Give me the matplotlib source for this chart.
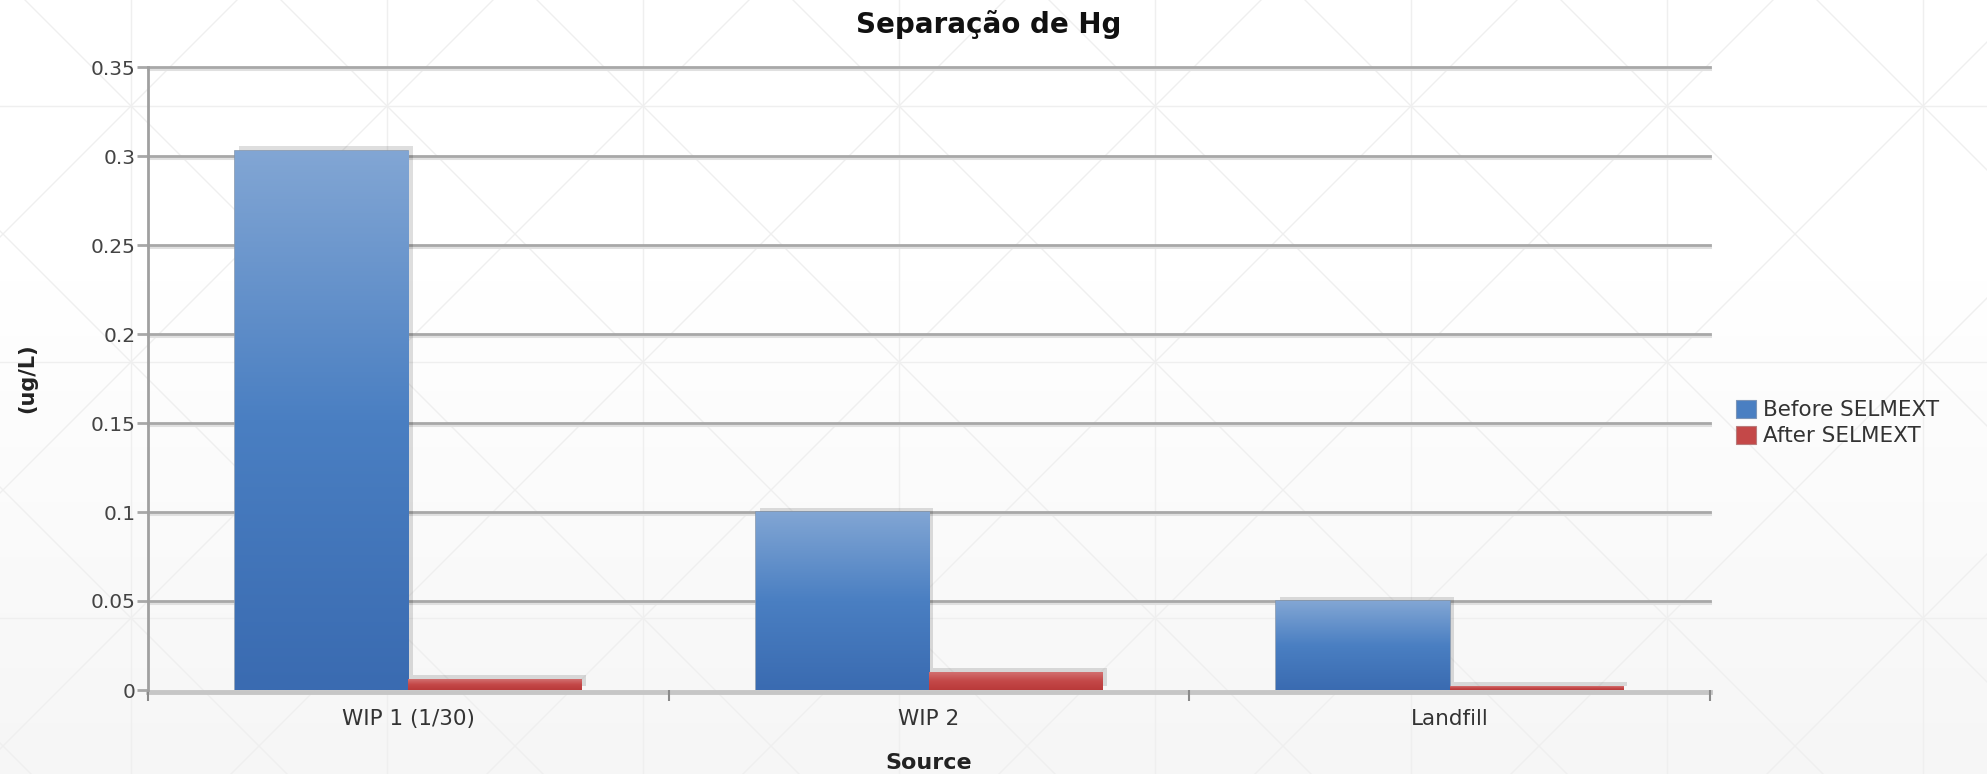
import matplotlib
matplotlib.use('Agg')
import matplotlib.pyplot as plt
import matplotlib.patheffects as pe
import matplotlib.transforms as mtransforms
from matplotlib.colors import LinearSegmentedColormap
from matplotlib.patches import Patch
import numpy as np

# Hg concentration per source, before / after the SELMEXT treatment
sources = ['WIP 1 (1/30)', 'WIP 2', 'Landfill']
before = [0.303, 0.100, 0.050]
after = [0.006, 0.010, 0.002]
y_ticks = [0, 0.05, 0.1, 0.15, 0.2, 0.25, 0.3, 0.35]
y_tick_labels = ['0', '0.05', '0.1', '0.15', '0.2', '0.25', '0.3', '0.35']
series_names = ['Before SELMEXT', 'After SELMEXT']

W, H = 1987, 774
fig = plt.figure(figsize=(W / 100, H / 100), dpi=100)
fig.patch.set_facecolor('white')

# page background: soft vertical gradient with a faint triangle lattice
bg = fig.add_axes([0, 0, 1, 1], zorder=-10)
bg.axis('off')
shade = np.ones((H, 1))
rows = np.arange(H)
shade[:, 0] = np.where(rows < 280, 1.0, 1.0 - 0.035 * (rows - 280) / (H - 280))
bg.imshow(np.repeat(shade[:, :, None], 3, axis=2), extent=[0, W, H, 0], aspect='auto')
lat = dict(color='#efefef', lw=1.0)
for k in range(-4, 12):
    x = 131 + 256 * k
    bg.plot([x, x], [0, H], **lat)
    y = 106 + 256 * k
    bg.plot([0, W], [y, y], **lat)
for k in range(-6, 14):
    c = 25 + 256 * k
    bg.plot([c, c + H], [0, H], **lat)
    s = 237 + 256 * k
    bg.plot([s, s - H], [0, H], **lat)
bg.set_xlim(0, W)
bg.set_ylim(H, 0)

ax = fig.add_axes([148 / W, 1 - 690 / H, (1710 - 148) / W, (690 - 67) / H])
ax.patch.set_alpha(0)

x = np.arange(len(sources))
bw = 0.333

# horizontal grid: dark line with a pale line just under it
down = mtransforms.ScaledTranslation(0, -2.2 / 100, fig.dpi_scale_trans)
ytrans = ax.get_yaxis_transform()
for v in y_ticks[1:]:
    ax.plot([0, 1], [v, v], color='#e0e0e0', lw=2.2, zorder=1, clip_on=False,
            transform=ytrans + down)
    ax.plot([0, 1], [v, v], color='#a8a8a8', lw=2.0, zorder=1.1, clip_on=False,
            transform=ytrans)
ax.plot([0, 1], [0, 0], color='#c6c6c6', lw=3.5, zorder=1.5, clip_on=False,
        transform=ytrans + down)

blue_cmap = LinearSegmentedColormap.from_list('b', ['#3a6bb1', '#4a7fc2', '#82a6d4'])
red_cmap = LinearSegmentedColormap.from_list('r', ['#b93a3a', '#c44848', '#d27070'])
grad = np.linspace(0, 1, 256)[:, None]

shadow = [pe.SimplePatchShadow(offset=(3, 3), shadow_rgbFace='k', alpha=0.13), pe.Normal()]

b1 = ax.bar(x - bw / 2, before, bw, color='#4a7fc2', edgecolor='#8397b0', lw=1.2,
            zorder=3, path_effects=shadow)
for bar in b1:
    x0, y0 = bar.get_x(), bar.get_y()
    im = ax.imshow(grad, cmap=blue_cmap, origin='lower', aspect='auto', zorder=3.1,
                   extent=[x0, x0 + bar.get_width(), y0, y0 + bar.get_height()])
    im.set_clip_path(bar)

b2 = ax.bar(x + bw / 2, after, bw, color='#c44848', lw=0, zorder=3.2,
            path_effects=shadow)
for bar in b2:
    x0, y0 = bar.get_x(), bar.get_y()
    im = ax.imshow(grad, cmap=red_cmap, origin='lower', aspect='auto', zorder=3.3,
                   extent=[x0, x0 + bar.get_width(), y0, y0 + bar.get_height()])
    im.set_clip_path(bar)

ax.set_xlim(-0.5, len(sources) - 0.5)
ax.set_ylim(0, 0.35)

for side in ['top', 'right', 'bottom']:
    ax.spines[side].set_visible(False)
ax.spines['left'].set_color('#a0a0a0')
ax.spines['left'].set_linewidth(2)
ax.spines['left'].set_zorder(4)

ax.set_yticks(y_ticks)
ax.set_yticklabels(y_tick_labels)
ax.tick_params(axis='y', length=8, width=2, color='#a8a8a8', pad=1,
               labelsize=14.5, labelcolor='#444444')

ax.set_xticks(x)
ax.set_xticklabels(sources)
ax.tick_params(axis='x', which='major', length=0, pad=14, labelsize=15.5,
               labelcolor='#333333')
ax.set_xticks(np.arange(len(sources) + 1) - 0.5, minor=True)
ax.tick_params(axis='x', which='minor', length=8, width=1.5, color='#8a8a8a')

fig.text(0.4975, 1 - 33 / H, 'Separação de Hg', ha='center', va='baseline',
         fontsize=20, fontweight='bold', color='#111111')
fig.text(27 / W, 1 - 378 / H, '(ug/L)', rotation=90, ha='center', va='center',
         fontsize=15, fontweight='bold', color='#222222')
fig.text(929 / W, 1 - 763 / H, 'Source', ha='center', va='center',
         fontsize=16, fontweight='bold', color='#222222')

handles = [Patch(facecolor='#4a7fc2', edgecolor='#7c95b8', lw=0.8),
           Patch(facecolor='#c44848', edgecolor='#b87c7c', lw=0.8)]
leg = fig.legend(handles, series_names, loc='center left',
                 bbox_to_anchor=(1736 / W, 1 - 423 / H), bbox_transform=fig.transFigure,
                 frameon=False, fontsize=15.5, handlelength=0.95, handleheight=0.95,
                 handletextpad=0.3, labelspacing=0.25, borderpad=0, borderaxespad=0)
for t in leg.get_texts():
    t.set_color('#333333')

fig.savefig('out.png', dpi=100)
